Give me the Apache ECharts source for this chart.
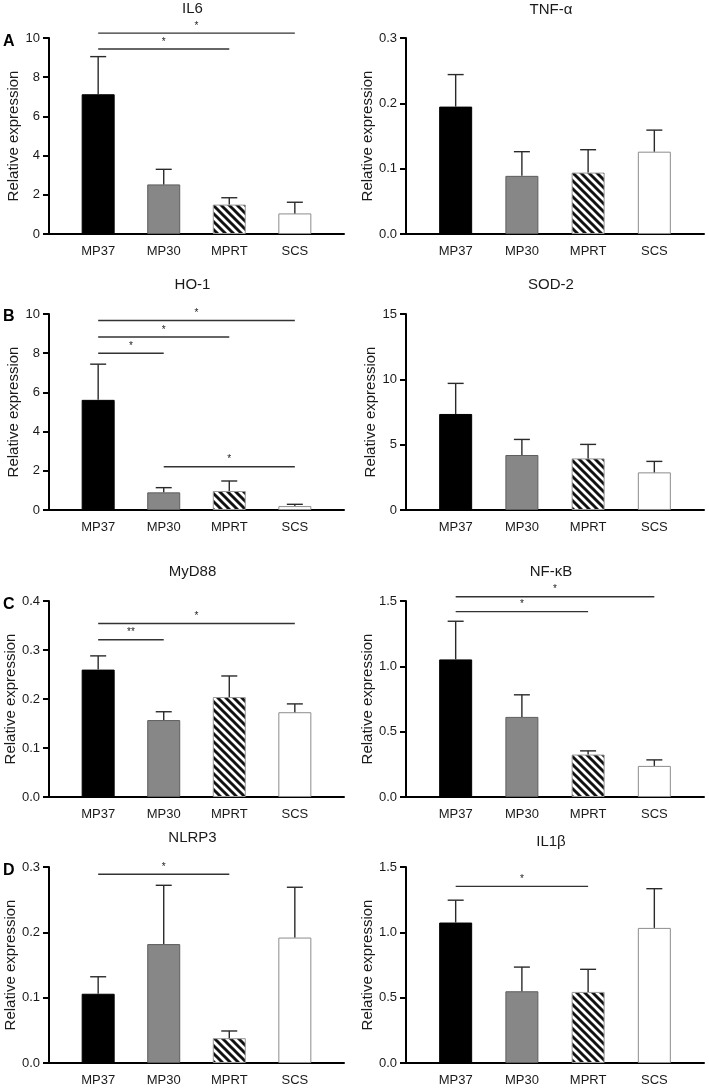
<!DOCTYPE html>
<html>
<head>
<meta charset="utf-8">
<script src="https://cdn.jsdelivr.net/npm/echarts@6/dist/echarts.min.js"></script>
<style>html,body{margin:0;padding:0;background:#fff}#c{width:709px;height:1088px}</style>
</head>
<body>
<div id="c"></div>
<script>
// ---------- data ----------
const categories = ['MP37', 'MP30', 'MPRT', 'SCS'];

const il6Mean   = [7.13, 2.53, 1.50, 1.05];
const il6Sem    = [1.92, 0.77, 0.35, 0.57];
const tnfMean   = [0.195, 0.089, 0.094, 0.126];
const tnfSem    = [0.049, 0.037, 0.035, 0.033];
const ho1Mean   = [5.62, 0.90, 0.97, 0.20];
const ho1Sem    = [1.82, 0.24, 0.51, 0.09];
const sod2Mean  = [7.35, 4.21, 3.95, 2.88];
const sod2Sem   = [2.34, 1.19, 1.07, 0.84];
const myd88Mean = [0.260, 0.157, 0.204, 0.173];
const myd88Sem  = [0.028, 0.017, 0.043, 0.017];
const nfkbMean  = [1.053, 0.613, 0.325, 0.238];
const nfkbSem   = [0.292, 0.169, 0.028, 0.046];
const nlrp3Mean = [0.106, 0.182, 0.038, 0.192];
const nlrp3Sem  = [0.026, 0.090, 0.011, 0.077];
const il1bMean  = [1.075, 0.549, 0.544, 1.034];
const il1bSem   = [0.171, 0.185, 0.173, 0.300];

// significance brackets: [fromCategoryIndex, toCategoryIndex, yValue, label]
const il6Sig   = [[0, 3, 10.25, '*'], [0, 2, 9.44, '*']];
const tnfSig   = [];
const ho1Sig   = [[0, 3, 9.67, '*'], [0, 2, 8.83, '*'], [0, 1, 8.0, '*'], [1, 3, 2.21, '*']];
const sod2Sig  = [];
const myd88Sig = [[0, 3, 0.354, '*'], [0, 1, 0.321, '**']];
const nfkbSig  = [[0, 3, 1.533, '*'], [0, 2, 1.419, '*']];
const nlrp3Sig = [[0, 2, 0.289, '*']];
const il1bSig  = [[0, 2, 1.352, '*']];

// axis ticks: [max, interval, decimals]
const il6Axis   = [10, 2, 0];
const tnfAxis   = [0.3, 0.1, 1];
const ho1Axis   = [10, 2, 0];
const sod2Axis  = [15, 5, 0];
const myd88Axis = [0.4, 0.1, 1];
const nfkbAxis  = [1.5, 0.5, 1];
const nlrp3Axis = [0.3, 0.1, 1];
const il1bAxis  = [1.5, 0.5, 1];

const panelTitles = ['IL6', 'TNF-α', 'HO-1', 'SOD-2', 'MyD88', 'NF-κB', 'NLRP3', 'IL1β'];
const panelLetters = ['A', 'B', 'C', 'D'];

// ---------- styling / layout ----------
const FONT = 'Liberation Sans, Arial, sans-serif';
function stripePattern() {
  const s = 8;
  const c = document.createElement('canvas');
  c.width = s; c.height = s;
  const g = c.getContext('2d');
  g.fillStyle = '#fff'; g.fillRect(0, 0, s, s);
  g.strokeStyle = '#111'; g.lineWidth = 2.9;
  g.beginPath();
  for (let k = -s; k <= s; k += s) { g.moveTo(k - 2, -2); g.lineTo(k + s + 2, s + 2); }
  g.stroke();
  return c;
}
const stripe = stripePattern();
const barStyles = [
  { color: '#000', borderColor: '#000', borderWidth: 1 },
  { color: '#878787', borderColor: '#5e5e5e', borderWidth: 1 },
  { color: { image: stripe, repeat: 'repeat' }, borderColor: '#999', borderWidth: 1 },
  { color: '#fff', borderColor: '#8c8c8c', borderWidth: 1 }
];

const panels = [
  { title: panelTitles[0], mean: il6Mean,   sem: il6Sem,   sig: il6Sig,   axis: il6Axis },
  { title: panelTitles[1], mean: tnfMean,   sem: tnfSem,   sig: tnfSig,   axis: tnfAxis },
  { title: panelTitles[2], mean: ho1Mean,   sem: ho1Sem,   sig: ho1Sig,   axis: ho1Axis },
  { title: panelTitles[3], mean: sod2Mean,  sem: sod2Sem,  sig: sod2Sig,  axis: sod2Axis },
  { title: panelTitles[4], mean: myd88Mean, sem: myd88Sem, sig: myd88Sig, axis: myd88Axis },
  { title: panelTitles[5], mean: nfkbMean,  sem: nfkbSem,  sig: nfkbSig,  axis: nfkbAxis },
  { title: panelTitles[6], mean: nlrp3Mean, sem: nlrp3Sem, sig: nlrp3Sig, axis: nlrp3Axis },
  { title: panelTitles[7], mean: il1bMean,  sem: il1bSem,  sig: il1bSig,  axis: il1bAxis }
];

const colLeft = [49, 406];
const colWidth = [295, 298];
const rowTop = [38, 314, 601, 867];
const gridH = 196;
const titleTop = [[1, 2], [277, 277], [564, 564], [830, 834]];

const grid = [], xAxis = [], yAxis = [], series = [], title = [], graphic = [];

panels.forEach((p, i) => {
  const row = Math.floor(i / 2), col = i % 2;
  grid.push({ left: colLeft[col], top: rowTop[row], width: colWidth[col], height: gridH });
  title.push({
    text: p.title,
    left: colLeft[col] + colWidth[col] / 2 - 4,
    top: titleTop[row][col],
    padding: 0,
    textAlign: 'center',
    textStyle: { fontFamily: FONT, fontSize: 15, fontWeight: 'normal', color: '#1a1a1a' }
  });
  xAxis.push({
    type: 'value', gridIndex: i, min: -0.75, max: 3.75,
    splitLine: { show: false },
    axisLine: { show: true, onZero: false, lineStyle: { color: '#000', width: 2 } },
    axisTick: { show: false },
    axisLabel: {
      customValues: [0, 1, 2, 3],
      formatter: v => categories[Math.round(v)] || '',
      fontFamily: FONT, fontSize: 13, color: '#1a1a1a', margin: 11
    }
  });
  const [ymax, yint, dec] = p.axis;
  yAxis.push({
    type: 'value', gridIndex: i, min: 0, max: ymax, interval: yint,
    splitLine: { show: false },
    axisLine: { show: true, onZero: false, lineStyle: { color: '#000', width: 2 } },
    axisTick: { show: true, length: 6, lineStyle: { color: '#000', width: 2 } },
    axisLabel: {
      formatter: v => v.toFixed(dec),
      fontFamily: FONT, fontSize: 13, color: '#1a1a1a', margin: 9
    },
    name: 'Relative expression', nameLocation: 'middle', nameGap: 28,
    nameTextStyle: { fontFamily: FONT, fontSize: 15, color: '#1a1a1a' }
  });
  series.push({
    type: 'bar', xAxisIndex: i, yAxisIndex: i, barWidth: 33,
    data: categories.map((c, k) => ({ value: [k, p.mean[k]], itemStyle: barStyles[k] })),
    silent: true, animation: false
  });
  series.push({
    type: 'custom', xAxisIndex: i, yAxisIndex: i, clip: false, silent: true, animation: false, z: 3,
    data: categories.map((c, k) => [k, p.mean[k], p.mean[k] + p.sem[k]]),
    renderItem: (params, api) => {
      const a = api.coord([api.value(0), api.value(1)]);
      const b = api.coord([api.value(0), api.value(2)]);
      const st = { stroke: '#2a2a2a', lineWidth: 1.4 };
      return { type: 'group', children: [
        { type: 'line', shape: { x1: a[0], y1: a[1], x2: b[0], y2: b[1] }, style: st },
        { type: 'line', shape: { x1: b[0] - 8, y1: b[1], x2: b[0] + 8, y2: b[1] }, style: st }
      ]};
    }
  });
  if (p.sig.length) {
    series.push({
      type: 'custom', xAxisIndex: i, yAxisIndex: i, clip: false, silent: true, animation: false, z: 3,
      data: p.sig.map(s => [s[0], s[1], s[2]]),
      renderItem: (params, api) => {
        const a = api.coord([api.value(0), api.value(2)]);
        const b = api.coord([api.value(1), api.value(2)]);
        return { type: 'group', children: [
          { type: 'line', shape: { x1: a[0], y1: a[1], x2: b[0], y2: b[1] }, style: { stroke: '#333', lineWidth: 1.4 } },
          { type: 'text', x: (a[0] + b[0]) / 2, y: a[1] - 2,
            style: { text: p.sig[params.dataIndex][3], font: '10px ' + FONT, fill: '#222', align: 'center', verticalAlign: 'bottom' } }
        ]};
      }
    });
  }
});

const letterY = [34, 309, 597, 863];
panelLetters.forEach((L, r) => {
  graphic.push({ type: 'text', left: 3, top: letterY[r],
    style: { text: L, font: 'bold 16px ' + FONT, fill: '#000' } });
});

const chart = echarts.init(document.getElementById('c'), null, { renderer: 'canvas' });
chart.setOption({ animation: false, backgroundColor: '#fff', title, grid, xAxis, yAxis, series, graphic });
</script>
</body>
</html>
